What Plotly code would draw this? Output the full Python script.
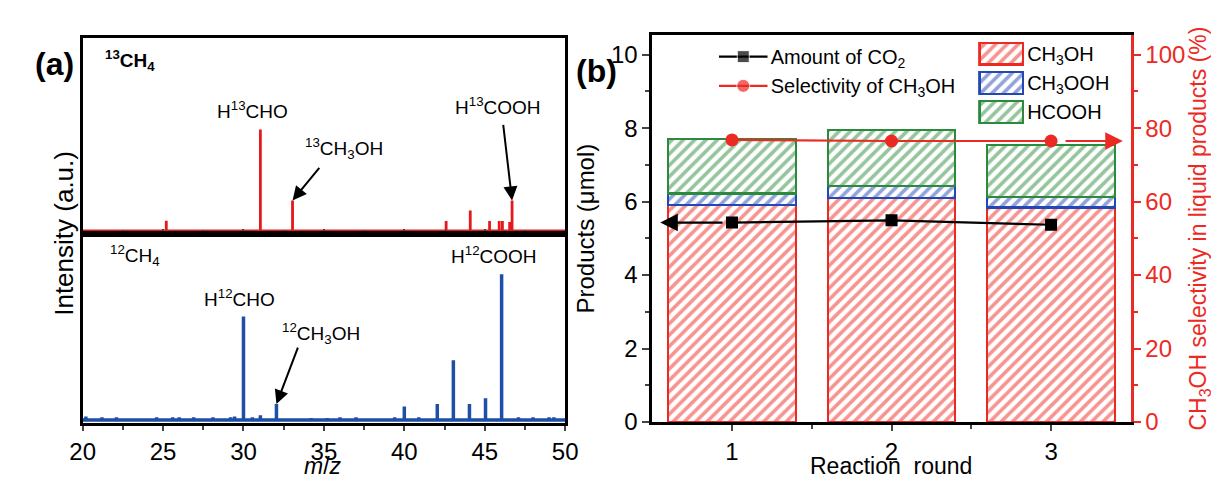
import plotly.graph_objects as go

W, H = 1219, 481

# ---------------- Panel (a) data ----------------
mz_13 = [25.2, 31.05, 33.05, 42.6, 44.1, 45.3, 45.9, 46.1, 46.55, 46.7]
int_13 = [0.10, 1.00, 0.30, 0.096, 0.20, 0.096, 0.096, 0.096, 0.087, 0.30]

mz_12 = [20.2, 21.2, 22.1, 24.6, 25.6, 26.0, 26.9, 28.1, 29.2, 29.45, 30.0, 30.55,
         31.05, 32.05, 34.2, 35.2, 36.0, 37.0, 39.4, 40.0, 40.9, 42.05, 43.05,
         44.05, 45.05, 46.05, 47.1, 48.0, 49.0, 49.3]
int_12 = [0.025, 0.02, 0.02, 0.02, 0.02, 0.02, 0.02, 0.02, 0.02, 0.025, 0.71, 0.02,
          0.033, 0.11, 0.015, 0.015, 0.02, 0.02, 0.02, 0.093, 0.02, 0.11, 0.41,
          0.11, 0.15, 1.00, 0.02, 0.02, 0.02, 0.02]

mz_ticks = [20, 25, 30, 35, 40, 45, 50]

# ---------------- Panel (b) data ----------------
rounds = [1, 2, 3]
ch3oh = [5.91, 6.09, 5.84]
ch3ooh = [0.31, 0.33, 0.29]
hcooh = [1.49, 1.54, 1.41]
co2_amount = [5.43, 5.49, 5.37]
selectivity = [76.8, 76.5, 76.5]

bar_names = ["CH<sub>3</sub>OH", "CH<sub>3</sub>OOH", "HCOOH"]
line_names = ["Amount of CO<sub>2</sub>", "Selectivity of CH<sub>3</sub>OH"]

RED_A = "#e5191b"
BLUE_A = "#1d4fa6"
RED = "#ec2a24"
BLUE = "#2347b5"
GREEN = "#2b8a3c"
bar_colors = [RED, BLUE, GREEN]
FONT = "Liberation Sans, Arial, sans-serif"


def fx(p):
    return p / W


def fy(p):
    return 1 - p / H


def sticks(xs, ys, x0, x1):
    X, Y = [x0], [0]
    for m, h in sorted(zip(xs, ys)):
        X += [m, m, m]
        Y += [0, h, 0]
    X.append(x1)
    Y.append(0)
    return X, Y


fig = go.Figure()

X13, Y13 = sticks(mz_13, int_13, mz_ticks[0], mz_ticks[-1])
X12, Y12 = sticks(mz_12, int_12, mz_ticks[0], mz_ticks[-1])
fig.add_trace(go.Scatter(x=X13, y=Y13, mode="lines", line=dict(color=RED_A, width=2.8),
                         xaxis="x", yaxis="y", showlegend=False, hoverinfo="skip"))
fig.add_trace(go.Scatter(x=X12, y=Y12, mode="lines", line=dict(color=BLUE_A, width=3.5),
                         xaxis="x2", yaxis="y2", showlegend=False, hoverinfo="skip"))


def hatch(c):
    return dict(color="white", line=dict(color=c, width=2.2),
                pattern=dict(shape="/", fgcolor=c, bgcolor="white", size=8, solidity=0.45))


for name, vals, c in zip(bar_names, [ch3oh, ch3ooh, hcooh], bar_colors):
    fig.add_trace(go.Bar(x=rounds, y=vals, width=0.8, name=name, marker=hatch(c),
                         xaxis="x3", yaxis="y3", showlegend=False))

fig.add_trace(go.Scatter(x=rounds, y=co2_amount, mode="lines+markers",
                         line=dict(color="black", width=2.2),
                         marker=dict(symbol="square", size=12, color="black"),
                         xaxis="x3", yaxis="y3", showlegend=False))
fig.add_trace(go.Scatter(x=rounds, y=selectivity, mode="lines+markers",
                         line=dict(color=RED, width=2.2),
                         marker=dict(symbol="circle", size=13, color=RED),
                         xaxis="x3", yaxis="y4", showlegend=False))

# legend boxes (mini axes)
for name, c in zip(bar_names, bar_colors):
    fig.add_trace(go.Bar(y=[name], x=[1], orientation="h", width=0.74, marker=hatch(c),
                         xaxis="x5", yaxis="y5", showlegend=False, hoverinfo="skip"))
fig.add_trace(go.Scatter(x=[0, 0.5, 1], y=[line_names[0]] * 3, mode="lines+markers",
                         line=dict(color="black", width=2.4),
                         marker=dict(symbol="square", size=[0, 12, 0], color="black"),
                         xaxis="x6", yaxis="y6", showlegend=False, hoverinfo="skip"))
fig.add_trace(go.Scatter(x=[0, 0.5, 1], y=[line_names[1]] * 3, mode="lines+markers",
                         line=dict(color=RED, width=2.4),
                         marker=dict(symbol="circle", size=[0, 13, 0], color=RED),
                         xaxis="x6", yaxis="y6", showlegend=False, hoverinfo="skip"))

frame = dict(showline=True, linecolor="black", linewidth=2.5, mirror=True,
             showgrid=False, zeroline=False)
xa_dom = [fx(63), fx(556)]
xb_dom = [fx(645), fx(1134)]
xa_range = [20, 50]
xb_range = [0.5, 3.5]
yb_range = [0, 10.53]
sel_range = [0, 105.3]

hidden = dict(showline=False, showgrid=False, zeroline=False, showticklabels=False, ticks="")

fig.update_layout(
    width=W, height=H, margin=dict(l=0, r=0, t=0, b=0),
    paper_bgcolor="white", plot_bgcolor="white",
    font=dict(family=FONT, color="black", size=20),
    barmode="stack", bargap=0.2,
    xaxis=dict(domain=xa_dom, anchor="y", range=xa_range, tickvals=mz_ticks,
               showticklabels=False, ticks="inside", ticklen=5, tickwidth=2,
               minor=dict(dtick=2.5, ticks="inside", ticklen=4, tickwidth=2, tick0=20), **frame),
    yaxis=dict(domain=[fy(232), fy(31)], anchor="x", range=[-0.029, 1.904],
               showticklabels=False, ticks="", **frame),
    xaxis2=dict(domain=xa_dom, anchor="y2", range=xa_range, tickvals=mz_ticks,
                ticks="outside", ticklen=5, tickwidth=2,
                minor=dict(dtick=2.5, ticks="outside", ticklen=4, tickwidth=2, tick0=20),
                tickfont=dict(size=24), **frame),
    yaxis2=dict(domain=[fy(427), fy(232)], anchor="x2", range=[-0.023, 1.277],
                showticklabels=False, ticks="", **frame),
    xaxis3=dict(domain=xb_dom, anchor="y3", range=xb_range, tickvals=rounds,
                ticks="outside", ticklen=6, tickwidth=2,
                minor=dict(tickvals=[1.5, 2.5], ticks="outside", ticklen=4, tickwidth=2),
                tickfont=dict(size=24),
                showline=True, linecolor="black", linewidth=2.5, mirror=True,
                showgrid=False, zeroline=False),
    yaxis3=dict(domain=[fy(425.5), fy(28)], anchor="x3", range=yb_range, dtick=2,
                ticks="outside", ticklen=7, tickwidth=2,
                minor=dict(dtick=1, ticks="outside", ticklen=4, tickwidth=2),
                tickfont=dict(size=24),
                title=dict(text="Products (μmol)", font=dict(size=24), standoff=10),
                showline=True, linecolor="black", linewidth=2.5, mirror=False,
                showgrid=False, zeroline=False),
    yaxis4=dict(overlaying="y3", side="right", anchor="x3", range=sel_range, dtick=20,
                ticks="outside", ticklen=7, tickwidth=2, tickcolor=RED,
                minor=dict(dtick=10, ticks="outside", ticklen=4, tickwidth=2, tickcolor=RED),
                tickfont=dict(size=24, color=RED),
                title=dict(text="CH<sub>3</sub>OH selectivity in liquid products (%)",
                           font=dict(size=23, color=RED), standoff=6),
                showline=True, linecolor=RED, linewidth=2.5,
                showgrid=False, zeroline=False),
    xaxis5=dict(domain=[fx(978), fx(1025)], anchor="y5", range=[-0.03, 1.03], **hidden),
    yaxis5=dict(domain=[fy(122), fy(32)], anchor="x5", type="category",
                categoryorder="array", categoryarray=bar_names[::-1], range=[-0.5, 2.5],
                side="right", showticklabels=True, ticks="", ticklabelstandoff=2,
                tickfont=dict(size=20), showline=False, showgrid=False, zeroline=False),
    xaxis6=dict(domain=[fx(713), fx(763)], anchor="y6", range=[0, 1], **hidden),
    yaxis6=dict(domain=[fy(95), fy(35)], anchor="x6", type="category",
                categoryorder="array", categoryarray=line_names[::-1], range=[-0.5, 1.5],
                side="right", showticklabels=True, ticks="", ticklabelstandoff=2,
                tickfont=dict(size=20), showline=False, showgrid=False, zeroline=False),
)

ann = []


def label(text, x, y, size=19, **kw):
    d = dict(text=text, x=fx(x), y=fy(y), xref="paper", yref="paper",
             showarrow=False, font=dict(size=size), xanchor="center", yanchor="middle")
    d.update(kw)
    ann.append(d)


label("<b>(a)</b>", 34, 58, size=32)
label("<b>(b)</b>", 588, 65, size=32)
label("Intensity (a.u.)", 44, 232, size=26, textangle=-90)
label("<i>m</i>/<i>z</i>", 309, 481, size=23, yanchor="bottom", borderpad=0, yshift=-4)
label("Reaction  round", 889, 481, size=23, yanchor="bottom", borderpad=0, yshift=-4)
label("<b><sup>13</sup>CH<sub>4</sub></b>", 111, 54)
label("H<sup>13</sup>CHO", 237, 105)
label("<sup>13</sup>CH<sub>3</sub>OH", 330, 144)
label("H<sup>13</sup>COOH", 487, 101)
label("<sup>12</sup>CH<sub>4</sub>", 116, 254)
label("H<sup>12</sup>COOH", 483, 254)
label("H<sup>12</sup>CHO", 223, 298)
label("<sup>12</sup>CH<sub>3</sub>OH", 307, 335)

arrow_style = dict(showarrow=True, arrowhead=2, arrowsize=1.4, arrowwidth=2,
                   arrowcolor="black", text="")
# arrows pointing to peaks in panel (a)
ann.append(dict(x=mz_13[2], y=int_13[2], xref="x", yref="y", ax=28, ay=-34, **arrow_style))
ann.append(dict(x=mz_13[-1], y=int_13[-1], xref="x", yref="y", ax=-9, ay=-77, **arrow_style))
ann.append(dict(x=mz_12[13], y=int_12[13], xref="x2", yref="y2", ax=22, ay=-58, **arrow_style))

# arrows pointing to axes in panel (b)
ann.append(dict(x=xb_range[0] + 0.05, y=co2_amount[0], xref="x3", yref="y3",
                ax=rounds[0], ay=co2_amount[0], axref="x3", ayref="y3",
                showarrow=True, arrowhead=2, arrowsize=1.6, arrowwidth=2.2,
                arrowcolor="black", startstandoff=8, text=""))
ann.append(dict(x=xb_range[1] - 0.05, y=selectivity[-1], xref="x3", yref="y4",
                ax=rounds[-1], ay=selectivity[-1], axref="x3", ayref="y4",
                showarrow=True, arrowhead=2, arrowsize=1.6, arrowwidth=2.2,
                arrowcolor=RED, startstandoff=13, text=""))

fig.update_layout(annotations=ann)
fig.write_html("out.html")
